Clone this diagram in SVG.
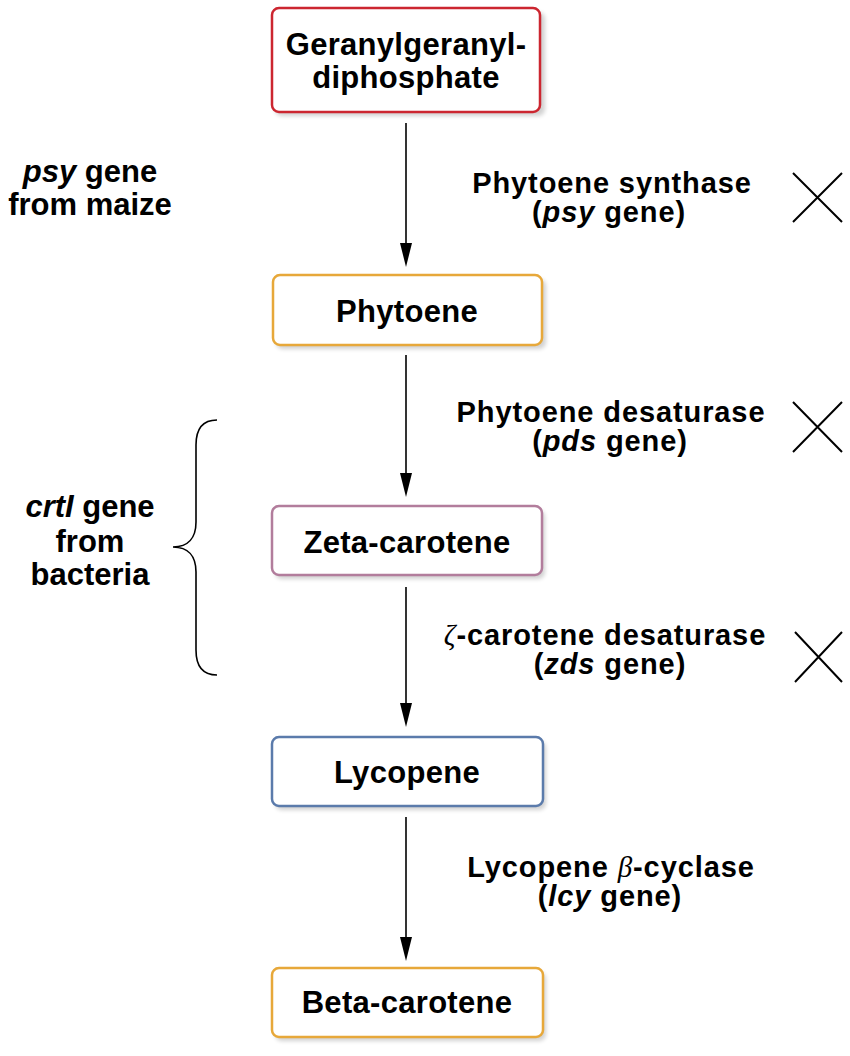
<svg xmlns="http://www.w3.org/2000/svg" width="850" height="1056" viewBox="0 0 850 1056">
<style>
text{font-family:"Liberation Sans",Arial,sans-serif;font-weight:bold;font-size:29px;letter-spacing:0.9px;fill:#000}
.n{font-size:31px;letter-spacing:0.3px}
.l{font-size:31px;letter-spacing:0}
.c{text-anchor:middle}
.i{font-style:italic}
.g{font-family:"Liberation Serif","Times New Roman",serif;font-style:italic;font-weight:normal}
.box{fill:#fff;stroke-width:2.5}
.sh{fill:#000;opacity:0.18}
.con{stroke:#000;stroke-width:1.6;fill:none}
.x{stroke:#000;stroke-width:2;fill:none}
</style>
<defs>
<filter id="blur" x="-10%" y="-10%" width="120%" height="130%"><feGaussianBlur stdDeviation="2"/></filter>
</defs>
<rect width="850" height="1056" fill="#fff"/>

<g id="connectors">
<line class="con" x1="406" y1="123" x2="406" y2="243"/>
<path d="M400,243 L412,243 L406,267 Z"/>
<line class="con" x1="406" y1="355" x2="406" y2="473"/>
<path d="M400,473 L412,473 L406,497 Z"/>
<line class="con" x1="406" y1="587" x2="406" y2="703"/>
<path d="M400,703 L412,703 L406,727 Z"/>
<line class="con" x1="406" y1="817" x2="406" y2="937"/>
<path d="M400,937 L412,937 L406,961 Z"/>
</g>

<g id="node-ggpp">
<rect class="sh" x="275" y="12" width="270" height="104" rx="7" filter="url(#blur)"/>
<rect class="box" x="272" y="8" width="268" height="104" rx="7" stroke="#cc2630"/>
<text class="c n" x="406" y="55">Geranylgeranyl-</text>
<text class="c n" x="406" y="88">diphosphate</text>
</g>

<g id="node-phytoene">
<rect class="sh" x="276" y="279" width="270" height="70" rx="7" filter="url(#blur)"/>
<rect class="box" x="273" y="275" width="269" height="70" rx="7" stroke="#e7a83a"/>
<text class="c n" x="407" y="322">Phytoene</text>
</g>

<g id="node-zeta">
<rect class="sh" x="275" y="510" width="270" height="69" rx="7" filter="url(#blur)"/>
<rect class="box" x="272" y="506" width="270" height="69" rx="7" stroke="#b27d9c"/>
<text class="c n" x="407" y="553">Zeta-carotene</text>
</g>

<g id="node-lycopene">
<rect class="sh" x="275" y="741" width="271" height="69" rx="7" filter="url(#blur)"/>
<rect class="box" x="272" y="737" width="271" height="69" rx="7" stroke="#5b7bab"/>
<text class="c n" x="407" y="783">Lycopene</text>
</g>

<g id="node-beta">
<rect class="sh" x="275" y="972" width="271" height="69" rx="7" filter="url(#blur)"/>
<rect class="box" x="272" y="968" width="271" height="69" rx="7" stroke="#e7a83a"/>
<text class="c n" x="407" y="1013">Beta-carotene</text>
</g>

<g id="label-psy">
<text class="c" x="612" y="193">Phytoene synthase</text>
<text class="c" x="609" y="222">(<tspan class="i">psy</tspan> gene)</text>
<path class="x" d="M793,173 L842,222 M842,173 L793,222"/>
</g>

<g id="label-pds">
<text class="c" x="611" y="422">Phytoene desaturase</text>
<text class="c" x="610" y="451">(<tspan class="i">pds</tspan> gene)</text>
<path class="x" d="M793,402 L842,452 M842,402 L793,452"/>
</g>

<g id="label-zds">
<text class="c" x="605" y="645"><tspan class="g">ζ</tspan>-carotene desaturase</text>
<text class="c" x="610" y="674">(<tspan class="i">zds</tspan> gene)</text>
<path class="x" d="M795,632 L842,682 M842,632 L795,682"/>
</g>

<g id="label-lcy">
<text class="c" x="611" y="877">Lycopene <tspan class="g" font-weight="bold">β</tspan>-cyclase</text>
<text class="c" x="610" y="906">(<tspan class="i">lcy</tspan> gene)</text>
</g>

<g id="label-maize">
<text class="c l" x="90" y="182"><tspan class="i">psy</tspan> gene</text>
<text class="c l" x="90" y="215">from maize</text>
</g>

<g id="label-bacteria">
<text class="c l" x="90" y="517"><tspan class="i">crtI</tspan> gene</text>
<text class="c l" x="90" y="552">from</text>
<text class="c l" x="90" y="585">bacteria</text>
<path class="con" d="M217,420 C203,420 196,428 196,445 L196,522 C196,538 188,547 173,547 C188,547 196,556 196,572 L196,650 C196,667 203,675 217,675"/>
</g>
</svg>
